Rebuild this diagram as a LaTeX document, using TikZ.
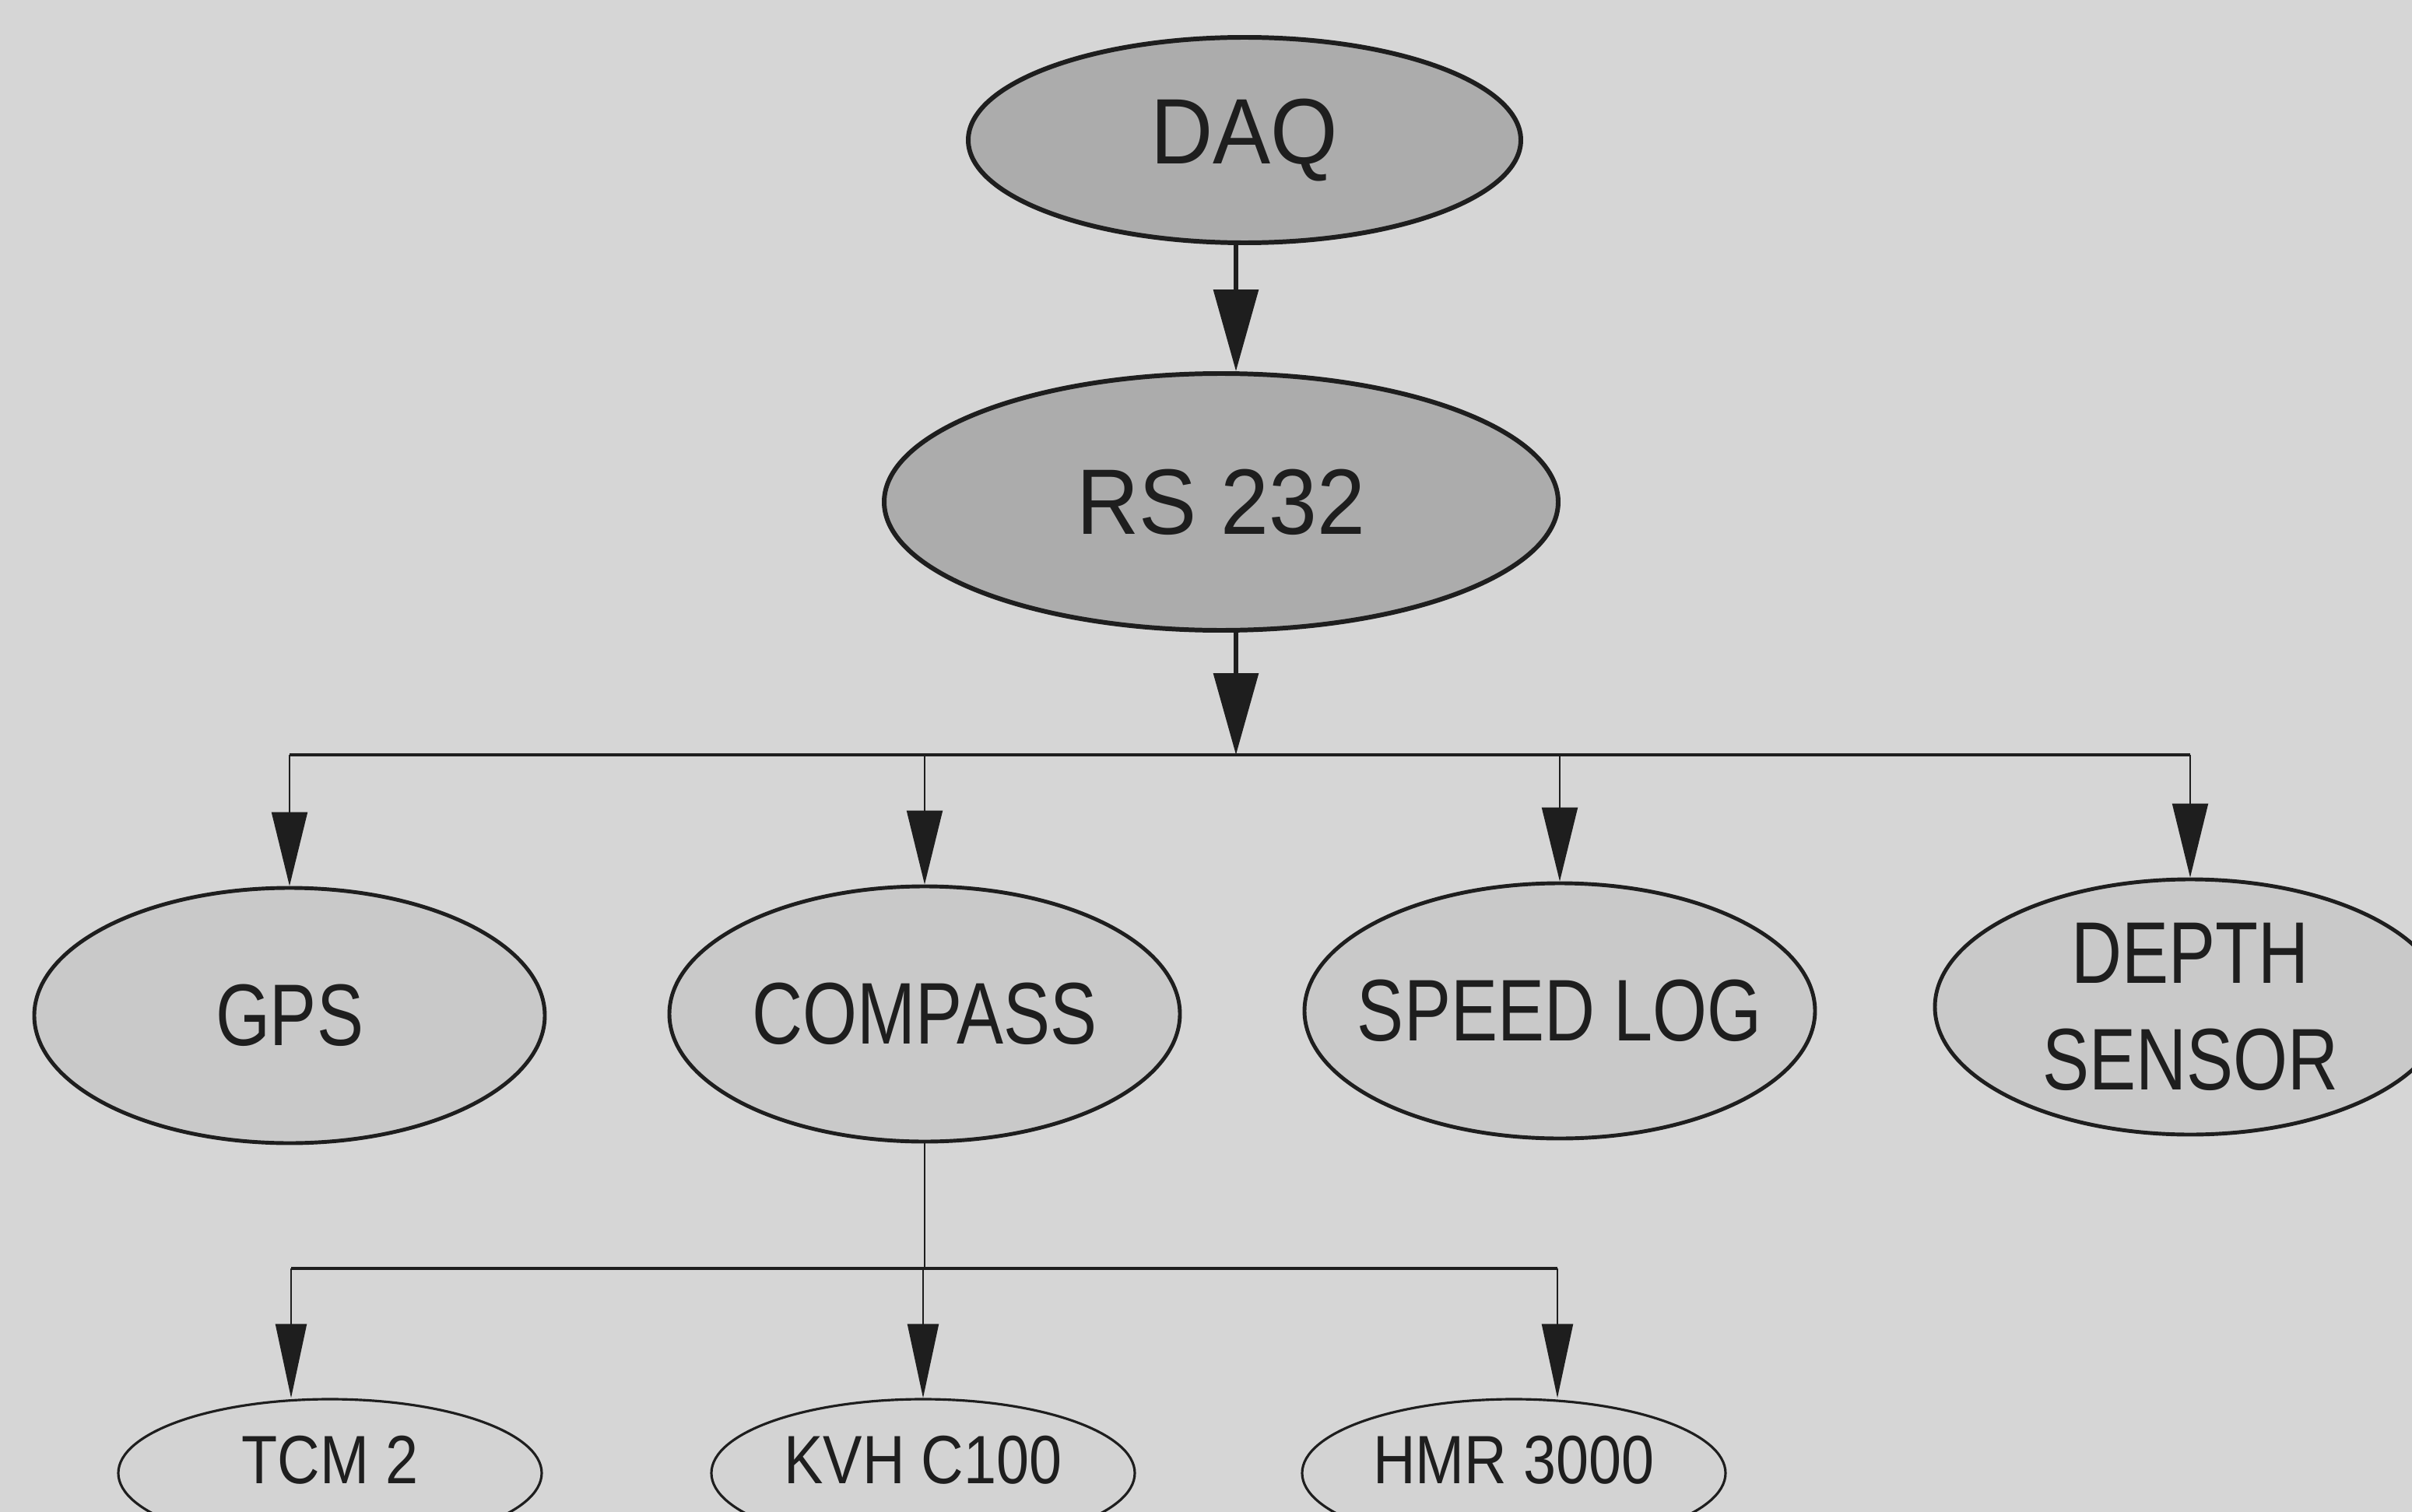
\documentclass[tikz,border=0pt]{standalone}
\usepackage{fontspec}
\setmainfont{Liberation Sans}
\newfontfamily\topfont{Liberation Sans}[FakeStretch=0.93]
\newfontfamily\midfont{Liberation Sans}[FakeStretch=0.8]
\newfontfamily\lowfont{Liberation Sans}[FakeStretch=0.86]
\usepackage{tikz}
\usetikzlibrary{arrows.meta,shapes.geometric}
\definecolor{paper}{RGB}{214,214,214}
\definecolor{darkfill}{RGB}{172,172,172}
\definecolor{midfill}{RGB}{201,201,201}
\definecolor{lowfill}{RGB}{211,211,211}
\definecolor{ink}{RGB}{30,30,30}

\begin{document}
\begin{tikzpicture}[
  topnode/.style={ellipse, draw=ink, line width=1.7pt, fill=darkfill, text=ink, inner xsep=-1cm, inner ysep=-0.3cm, font=\topfont\fontsize{34}{40}\selectfont},
  midnode/.style={ellipse, draw=ink, line width=1.4pt, fill=midfill, text=ink, inner xsep=-1cm, inner ysep=-0.3cm, align=center, minimum width=6.56cm, minimum height=3.28cm, font=\midfont\fontsize{32}{39}\selectfont},
  lownode/.style={ellipse, draw=ink, line width=0.9pt, fill=lowfill, text=ink, inner xsep=-1cm, inner ysep=-0.3cm, text height=0.63cm, text depth=0.36cm, minimum width=5.44cm, minimum height=1.90cm, font=\lowfont\fontsize{25}{30}\selectfont},
  toparr/.style={draw=ink, line width=1.8pt, -{Triangle[length=1.05cm, width=0.57cm]}},
  midarr/.style={draw=ink, line width=0.6pt, -{Triangle[length=0.95cm, width=0.46cm]}},
  lowarr/.style={draw=ink, line width=0.6pt, -{Triangle[length=0.95cm, width=0.40cm]}},
  busline/.style={draw=ink, line width=1.3pt},
  thinline/.style={draw=ink, line width=0.5pt}
]
\fill[paper] (0,0) rectangle (30.99,-19.43);
\useasboundingbox (0,0) rectangle (30.99,-19.43);

% top levels
\node[topnode, minimum width=7.10cm, minimum height=2.64cm] (daq) at (15.99,-1.80) {DAQ};
\node[topnode, minimum width=8.66cm, minimum height=3.30cm] (rs) at (15.69,-6.45) {RS 232};

% sensors
\node[midnode] (gps) at (3.72,-13.05) {GPS};
\node[midnode] (compass) at (11.88,-13.03) {COMPASS};
\node[midnode] (speed) at (20.04,-12.99) {SPEED LOG};
\node[midnode] (depth) at (28.14,-12.94) {DEPTH\\SENSOR};

% compasses
\node[lownode] (tcm) at (4.24,-18.93) {TCM 2};
\node[lownode] (kvh) at (11.86,-18.93) {KVH C100};
\node[lownode] (hmr) at (19.45,-18.93) {HMR 3000};

\coordinate (rsbus) at (15.88,-9.70);
\coordinate (cbus) at (11.86,-16.30);
\coordinate (tcmdrop) at (3.74,-16.30);
\coordinate (hmrdrop) at (20.01,-16.30);

\draw[toparr] (daq.south -| rsbus) -- (rs.north -| rsbus);
\draw[toparr] (rs.south -| rsbus) -- (rsbus);
\draw[busline] (gps.north |- rsbus) -- (depth.north |- rsbus);
\foreach \s in {gps,compass,speed,depth}
  \draw[midarr] (\s.north |- rsbus) -- (\s.north);

\draw[thinline] (compass.south) -- (compass.south |- cbus);
\draw[busline] (tcmdrop) -- (hmrdrop);
\draw[lowarr] (tcmdrop) -- (tcm.north -| tcmdrop);
\draw[lowarr] (cbus) -- (kvh.north);
\draw[lowarr] (hmrdrop) -- (hmr.north -| hmrdrop);
\end{tikzpicture}
\end{document}
